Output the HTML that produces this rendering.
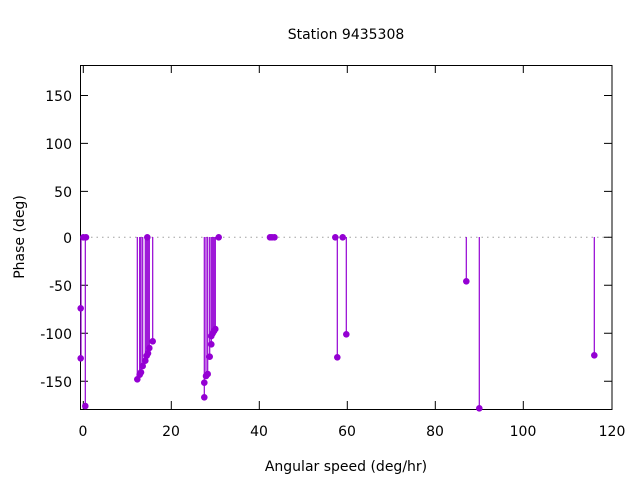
<!DOCTYPE html>
<html><head><style>body{margin:0;background:#fff}svg{display:block}</style></head><body>
<svg width="640" height="480" xmlns="http://www.w3.org/2000/svg" font-family="DejaVu Sans, Liberation Sans, sans-serif" font-size="14">
<rect width="640" height="480" fill="#fff"/>
<text x="346" y="39" text-anchor="middle">Station 9435308</text>
<line x1="80" y1="237.3" x2="612" y2="237.3" stroke="#a0a0a0" stroke-width="1" stroke-dasharray="1.5,4"/>
<g stroke="#000" stroke-width="1">
<rect x="80.5" y="65.5" width="531.5" height="344" fill="none"/>
<path d="M80 95.5h8M612 95.5h-8M80 143.4h8M612 143.4h-8M80 191.4h8M612 191.4h-8M80 237.3h8M612 237.3h-8M80 285.3h8M612 285.3h-8M80 333.2h8M612 333.2h-8M80 381.3h8M612 381.3h-8"/>
<path d="M83.3 409v-8M83.3 65v8M171.3 409v-8M171.3 65v8M259.3 409v-8M259.3 65v8M347.3 409v-8M347.3 65v8M435.3 409v-8M435.3 65v8M523.3 409v-8M523.3 65v8"/>
</g>
<g text-anchor="end">
<text x="72" y="101">150</text><text x="72" y="149">100</text><text x="72" y="197">50</text>
<text x="72" y="243">0</text><text x="72" y="291">-50</text><text x="72" y="339">-100</text><text x="72" y="387">-150</text>
</g>
<g text-anchor="middle">
<text x="83" y="436">0</text><text x="171" y="436">20</text><text x="259" y="436">40</text><text x="347" y="436">60</text><text x="435" y="436">80</text><text x="523" y="436">100</text><text x="612" y="436">120</text>
<text x="346" y="471">Angular speed (deg/hr)</text>
<text transform="translate(24,237) rotate(-90)">Phase (deg)</text>
</g>
<g stroke="#9400d3" stroke-width="1.2" fill="none">
<path d="M81 237v71M81 237v121M85.3 237v169
M137.3 237v142.3M139.7 237v137.7M141 237v135.3M142.7 237v129M145.3 237v123.7M146.7 237v118.7M148 237v116.3M149.3 237v111M152.7 237v104.3
M204.3 237v160.3M204.3 237v145.7M206 237v139M207.7 237v137M209.7 237v119.7M211.3 237v107.3M211.3 237v99M212.7 237v96.3M214 237v94M215.3 237v92
M337.3 237v120M346.3 237v97M466.3 237v44.3M479.3 237v171.3M594.3 237v118.3"/>
</g>
<g fill="#9400d3">
<circle cx="80.7" cy="308.3" r="3.3"/><circle cx="80.7" cy="358.3" r="3.3"/><circle cx="83.3" cy="237.3" r="3.3"/><circle cx="86" cy="237.3" r="3.3"/><circle cx="85.3" cy="406" r="3.3"/>
<circle cx="137.3" cy="379.3" r="3.3"/><circle cx="139.7" cy="374.7" r="3.3"/><circle cx="141" cy="372.3" r="3.3"/><circle cx="142.7" cy="366" r="3.3"/><circle cx="145.3" cy="360.7" r="3.3"/><circle cx="146.7" cy="355.7" r="3.3"/><circle cx="148" cy="353.3" r="3.3"/><circle cx="149.3" cy="348" r="3.3"/><circle cx="147.3" cy="237.3" r="3.3"/><circle cx="152.7" cy="341.3" r="3.3"/>
<circle cx="204.3" cy="397.3" r="3.3"/><circle cx="204.3" cy="382.7" r="3.3"/><circle cx="206" cy="376" r="3.3"/><circle cx="207.7" cy="374" r="3.3"/><circle cx="209.7" cy="356.7" r="3.3"/><circle cx="211.3" cy="344.3" r="3.3"/><circle cx="211.3" cy="336" r="3.3"/><circle cx="212.7" cy="333.3" r="3.3"/><circle cx="214" cy="331" r="3.3"/><circle cx="215.3" cy="329" r="3.3"/><circle cx="218.7" cy="237.3" r="3.3"/>
<circle cx="270" cy="237.3" r="3.3"/><circle cx="272" cy="237.3" r="3.3"/><circle cx="274.5" cy="237.3" r="3.3"/>
<circle cx="335.3" cy="237.3" r="3.3"/><circle cx="342.7" cy="237.3" r="3.3"/><circle cx="337.3" cy="357.3" r="3.3"/><circle cx="346.3" cy="334.3" r="3.3"/>
<circle cx="466.3" cy="281.3" r="3.3"/><circle cx="479.3" cy="408.3" r="3.3"/><circle cx="594.3" cy="355.3" r="3.3"/>
</g>
</svg>
</body></html>
